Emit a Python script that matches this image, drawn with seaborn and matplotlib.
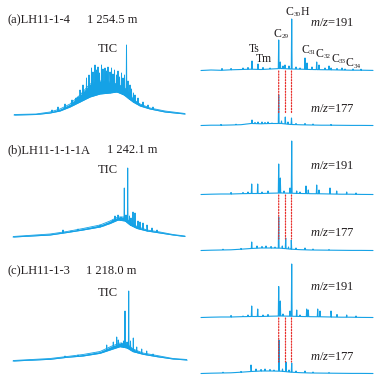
import numpy as np
import pandas as pd
import seaborn as sns
import matplotlib.pyplot as plt
from matplotlib.patches import ConnectionPatch

sns.set_theme(style="white")
plt.rcParams["font.family"] = ["Liberation Serif", "DejaVu Serif"]
plt.rcParams["mathtext.fontset"] = "custom"
plt.rcParams["mathtext.rm"] = "Liberation Serif"
plt.rcParams["mathtext.it"] = "Liberation Serif:italic"
plt.rcParams["mathtext.default"] = "regular"

BLUE = "#15a2e6"
RED = "#e8302c"
INK = "#231f20"

# ---------------- data (scan no. / abundance) ----------------
samples = ["(a)LH11-1-4", "(b)LH11-1-1-1A", "(c)LH11-1-3"]
depths = ["1 254.5 m", "1 242.1 m", "1 218.0 m"]

# TIC: hump envelope (lower / upper edge of the unresolved band) + resolved peaks
tic_a_scan = [0, 22, 36, 46, 56, 66, 76, 86, 96, 103, 110, 115, 119, 126, 136, 151, 171]
tic_a_low = [0, 0.5, 2, 4, 8, 13, 18, 21, 22, 23, 20, 16, 13, 9, 6, 3, 1]
tic_a_high = [0.5, 1, 3, 6, 11, 20, 31, 34, 33, 31, 28, 22, 16, 11, 7, 4, 1.5]
tic_a_pk = [38, 44, 51, 58, 62, 64, 66, 69, 72.5, 75, 77.5, 79, 81, 82.5, 84, 85.5, 87.5, 89, 91,
            92.5, 94, 96, 97.5, 99, 100.5, 102.5, 104, 105.5, 107.5, 109, 110.5, 112.5, 114,
            116, 117.5, 119.5, 121, 124, 129, 134, 139]
tic_a_top = [5, 8, 11, 15, 17, 18, 25, 30, 37, 40, 47, 43, 50, 45, 48, 42, 50, 46, 47,
             44, 48, 43, 47, 41, 45, 40, 44, 38, 42, 37, 40, 70, 34,
             30, 26, 22, 20, 17, 13, 10, 8]

tic_b_scan = [0, 37, 54, 70, 87, 97, 105, 112, 117, 124, 134, 147, 160, 172]
tic_b_low = [0, 2, 4.5, 7, 10, 13.5, 17, 16, 12, 8.5, 6, 4, 2, 0.5]
tic_b_high = [0.5, 3, 5.5, 8.5, 12, 16, 20, 20, 15, 10.5, 7, 5, 2.5, 1]
tic_b_pk = [50, 58, 65, 72, 79, 84, 87, 91, 94, 97, 100, 102, 105, 108, 111.3, 113, 114.7,
            116.5, 118, 120, 122, 125, 127, 130, 134, 139, 144]
tic_b_top = [7, 6, 8, 8, 9, 10, 12, 11, 13, 15, 17, 21, 22, 20, 49, 22, 69,
             21, 19, 25, 24, 16, 15, 14, 12, 9, 7]

tic_c_scan = [0, 37, 54, 70, 87, 99, 107, 114, 120, 130, 144, 160, 174]
tic_c_low = [0, 1.7, 3.7, 5, 7.7, 11.7, 14.3, 13, 9.3, 6.7, 4.3, 2, 1]
tic_c_high = [0.5, 2.5, 4.5, 6.5, 9.5, 15, 18, 17, 12, 8, 5.5, 2.5, 1.5]
tic_c_pk = [52, 65, 77, 83.7, 90.3, 93.7, 97, 100.3, 103.7, 105.3, 108.7, 110.5, 112, 114,
            115.7, 117.5, 120.3, 123.7, 128.7, 133.7, 140]
tic_c_top = [5, 6, 7, 8, 10, 16, 13, 19, 24, 21, 18, 20, 50, 19,
             70, 20, 23, 14, 12, 10, 7]

# mass chromatograms, shared baseline grid
mz_scan = [0, 10, 20, 30, 40, 50, 60, 70, 80, 90, 100, 110, 120, 130, 140, 150, 160, 172]

m191_a_base = [0.5, 1, 0.7, 1.2, 1.5, 1.8, 1.5, 2, 2.5, 2, 1.8, 1.5, 1.3, 1.2, 1, 0.8, 0.8, 0.6]
m191_a_pk = [21, 30, 42, 47, 51, 57, 62, 69, 77.7, 79.3, 82, 84, 88, 90.7, 95, 99, 104, 106,
             111, 115.7, 118, 124, 128, 130, 136, 141, 144, 152, 160]
m191_a_top = [2.5, 2.5, 3, 3.5, 10, 7, 3.5, 3, 31, 9, 5, 6, 5, 52, 4, 3, 13, 8,
              4, 9, 6, 3, 5, 3, 2.5, 3, 2, 2, 1.8]

m177_a_base = [0.5, 0.8, 0.8, 1, 1.3, 2.5, 2.2, 2.5, 2.5, 1.5, 1.2, 1, 0.8, 0.8, 0.7, 0.6, 0.6, 0.5]
m177_a_pk = [20, 35, 45, 51, 54, 57, 61, 64, 67, 71, 77.7, 80.5, 84.3, 87, 90.5, 95, 104, 112, 130]
m177_a_top = [1.5, 1.8, 2, 6, 3.5, 4, 4, 3.5, 4, 3, 31, 5, 9, 4, 8, 2.5, 2.5, 2, 1.5]

m191_b_base = [0.5, 0.8, 1, 1, 1.3, 1.5, 1.5, 1.8, 2, 1.8, 1.5, 1.3, 1.2, 1, 0.8, 0.8, 0.6, 0.5]
m191_b_pk = [30, 42, 47, 50.7, 56.7, 61, 67, 77.7, 79.3, 83, 89, 90.7, 95.7, 99, 105, 107.3,
             115.7, 118, 129, 135.7, 145.7, 155]
m191_b_top = [2.5, 2.5, 3, 11, 11, 3, 4, 31, 17, 4, 7, 54, 4, 3, 9, 5,
              10, 5, 7, 4, 3, 2]

m177_b_base = [0.5, 0.8, 1, 1.2, 1.8, 2.5, 3, 3, 2.8, 1.8, 1.3, 1, 0.9, 0.8, 0.7, 0.6, 0.6, 0.5]
m177_b_pk = [22, 40, 50.7, 56, 61, 65, 70, 74, 77.7, 81.3, 84.7, 87.5, 90.3, 95, 104, 112, 128]
m177_b_top = [1.8, 2.5, 9, 5, 4.5, 5, 4.5, 4, 34, 5, 13, 4, 11, 3, 3, 2, 1.5]

m191_c_base = [0.5, 0.8, 1, 1, 1.3, 1.5, 1.5, 1.8, 2, 1.8, 1.5, 1.3, 1.2, 1, 0.8, 0.8, 0.6, 0.5]
m191_c_pk = [30, 42, 47, 50.7, 56.7, 62, 67, 77.7, 79.3, 82, 89, 90.7, 95.7, 99, 105.7, 107.3,
             116.7, 119, 130, 136, 145.7, 155]
m191_c_top = [2.5, 2, 3, 12, 9, 3, 3.5, 31.5, 17, 4, 7, 54, 8, 3, 9, 8,
              9, 7, 7, 3.5, 3, 2]

m177_c_base = [0.5, 0.8, 1, 1.2, 1.8, 2.5, 3, 3, 2.8, 1.8, 1.3, 1, 0.9, 0.8, 0.7, 0.6, 0.6, 0.5]
m177_c_pk = [22, 40, 50, 55, 60, 64, 69, 73, 78, 81.5, 85, 88, 90.7, 95, 104, 112, 128]
m177_c_top = [1.8, 2.5, 9, 5, 4.5, 5, 4.5, 4, 34, 5, 12, 4, 11, 3, 3, 2, 1.5]

# hopane peaks traced between m/z 191 and m/z 177 (C29, and the two 25-nor peaks)
hopane_scan = [77.7, 84.5, 90.5]

# peak labels: (main symbol, subscript, tail)
peak_labels = [("Ts", "", ""), ("Tm", "", ""), ("C", "29", ""), ("C", "30", "H"),
               ("C", "31", ""), ("C", "32", ""), ("C", "33", ""), ("C", "34", "")]

# ---------------- layout (pixels on a 387 x 382 canvas) ----------------
W, H = 387, 382
fig = plt.figure(figsize=(W / 100, H / 100), dpi=100)


def add_ax(left, baseline, width, height):
    ax = fig.add_axes([left / W, (H - baseline) / H, width / W, height / H])
    ax.set_xlim(0, width)
    ax.set_ylim(0, height)
    ax.set_axis_off()
    ax.patch.set_alpha(0)
    return ax


def ftext(x, y, s, size=9, ha="left", va="center"):
    return fig.text(x / W, (H - y) / H, s, fontsize=size, color=INK, ha=ha, va=va)


def trace(scan, base, pk, top, w=0.4):
    scan = np.asarray(scan, float)
    base = np.asarray(base, float)
    pk = np.asarray(pk, float)
    top = np.asarray(top, float)
    xs = np.concatenate([scan, pk - w, pk, pk + w])
    ys = np.concatenate([base, np.interp(pk - w, scan, base), top, np.interp(pk + w, scan, base)])
    order = np.argsort(xs, kind="stable")
    return pd.DataFrame({"scan": xs[order], "abund": ys[order]})


def draw(ax, df, lw=0.8):
    sns.lineplot(data=df, x="scan", y="abund", ax=ax, sort=False, estimator=None,
                 color=BLUE, lw=lw, clip_on=False)
    ax.set_axis_off()


tic_sets = [
    (tic_a_scan, tic_a_low, tic_a_high, tic_a_pk, tic_a_top),
    (tic_b_scan, tic_b_low, tic_b_high, tic_b_pk, tic_b_top),
    (tic_c_scan, tic_c_low, tic_c_high, tic_c_pk, tic_c_top),
]
mz_sets = [
    ((m191_a_base, m191_a_pk, m191_a_top), (m177_a_base, m177_a_pk, m177_a_top)),
    ((m191_b_base, m191_b_pk, m191_b_top), (m177_b_base, m177_b_pk, m177_b_top)),
    ((m191_c_base, m191_c_pk, m191_c_top), (m177_c_base, m177_c_pk, m177_c_top)),
]

tic_left = [14, 13, 13]
tic_base = [115, 237, 361]
m191_base_px = [71, 195, 318]
m177_base_px = [126, 251, 374]
title_y = [20, 150, 271]
depth_x = [87, 107, 86]
tic_lbl_y = [49, 170, 293]

for i in range(3):
    # TIC
    scan, low, high, pk, top = tic_sets[i]
    ax = add_ax(tic_left[i], tic_base[i], 174, 80)
    ax.fill_between(scan, low, high, color=BLUE, lw=0)
    ax.plot(scan, high, color=BLUE, lw=0.6)
    draw(ax, trace(scan, low, pk, top, w=0.3), lw=0.7)

    ftext(8, title_y[i], samples[i], size=9)
    ftext(depth_x[i], title_y[i], depths[i], size=9)
    ftext(108, tic_lbl_y[i], "TIC", ha="center")

    # m/z 191 and m/z 177
    (b191, p191, t191), (b177, p177, t177) = mz_sets[i]
    ax191 = add_ax(201, m191_base_px[i], 172, 60)
    draw(ax191, trace(mz_scan, b191, p191, t191))
    ax177 = add_ax(201, m177_base_px[i], 172, 45)
    draw(ax177, trace(mz_scan, b177, p177, t177))

    for x in hopane_scan:
        con = ConnectionPatch(xyA=(x, 0), coordsA=ax191.transData,
                              xyB=(x, 12), coordsB=ax177.transData,
                              color=RED, lw=0.9, linestyle=(0, (1, 1.3)))
        fig.add_artist(con)

    ftext(310, [23, 166, 287][i], "$\\mathit{m/z}$=191")
    ftext(310, [109, 233, 357][i], "$\\mathit{m/z}$=177")

# peak labels on the top m/z 191 trace (small lowered subscripts as in the original)
lbl_xy = [(249, 49), (256, 59), (274, 34), (286, 12), (301, 50), (316, 54), (331, 59), (346, 63.5)]
fig.canvas.draw()
renderer = fig.canvas.get_renderer()
for (main, sub, tail), (x, y) in zip(peak_labels, lbl_xy):
    t = ftext(x, y, main, size=8.5)
    if sub:
        wpx = t.get_window_extent(renderer).width
        s = ftext(x + wpx, y + 2.5, sub, size=5)
        if tail:
            spx = s.get_window_extent(renderer).width
            ftext(x + wpx + spx, y, tail, size=8.5)

fig.savefig("out.png", dpi=100)
